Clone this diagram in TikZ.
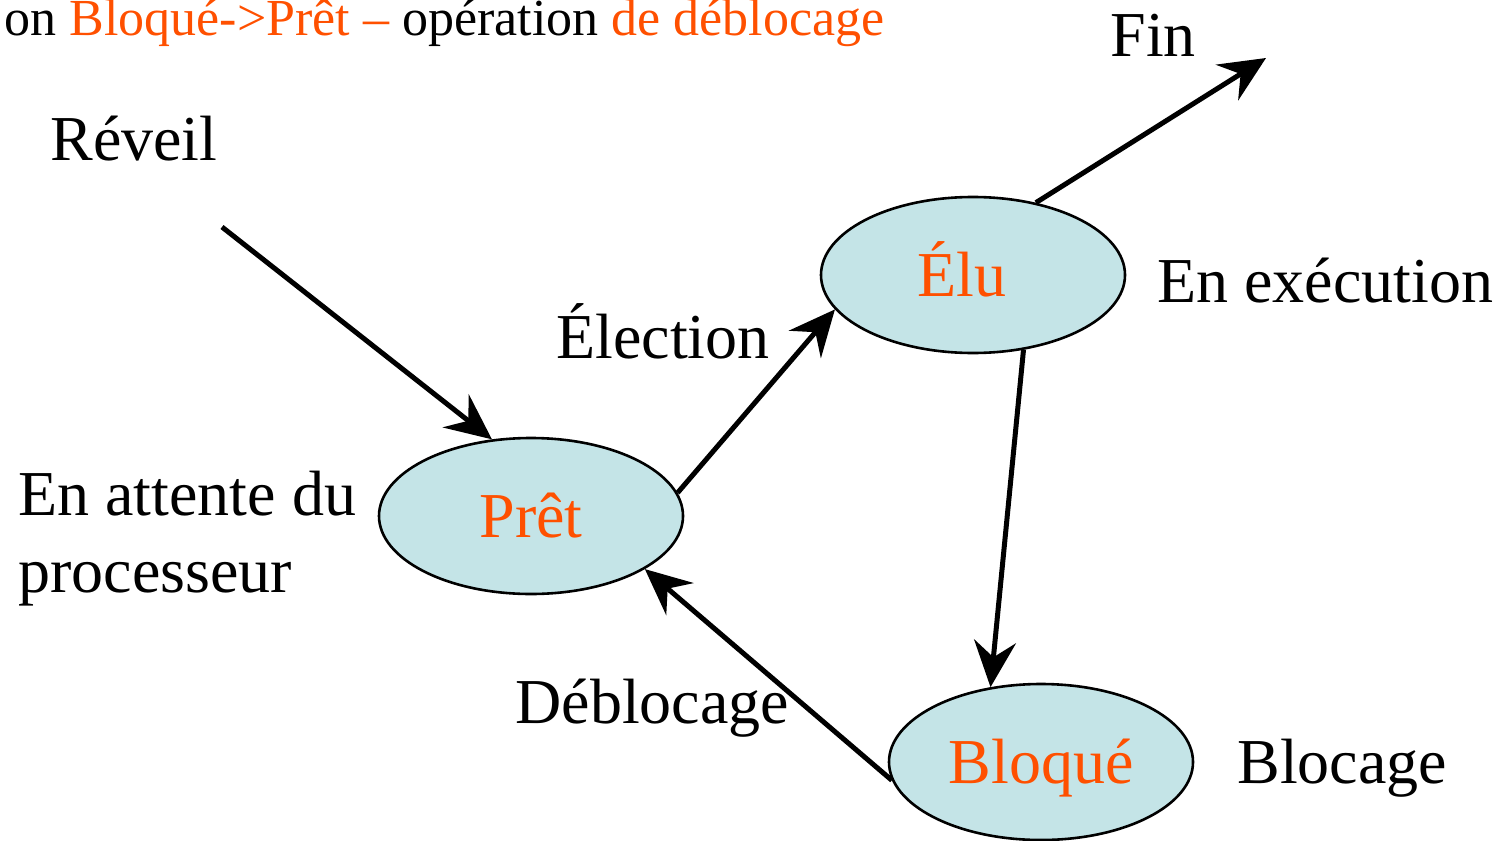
\documentclass[tikz,border=0pt]{standalone}
\usepackage{fontspec}
\setmainfont{Liberation Serif}
\usetikzlibrary{arrows.meta,shapes.geometric}
\definecolor{stfill}{RGB}{196,228,231}
\definecolor{storange}{RGB}{255,80,0}
\tikzset{
  state/.style={ellipse, draw=black, line width=1.3pt, fill=stfill, minimum width=152pt, minimum height=78pt, inner sep=0pt, text=storange, font=\fontsize{32}{38}\selectfont, text height=21pt, text depth=0pt},
  lbl/.style={anchor=base west, inner sep=0pt, font=\fontsize{32}{38}\selectfont},
  arr/.style={line width=2.5pt, -{Stealth[length=23pt, width=21pt, inset=8pt]}}
}
\begin{document}
\begin{tikzpicture}[x=0.5pt, y=-0.5pt]
\useasboundingbox (0,0) rectangle (1503,840);
\node[state] (elu) at (973,275) {Élu\hspace*{11pt}};
\node[state] (pret) at (531,516) {Prêt};
\node[state] (bloque) at (1041,762) {Bloqué};
\node[anchor=base east, inner sep=0pt, font=\fontsize{26}{30}\selectfont] (titre) at (885,36) {on \textcolor{storange}{Bloqué->Prêt –} opération \textcolor{storange}{de déblocage}};
\node[lbl] (reveil) at (50,160) {Réveil};
\node[lbl] (election) at (556,358) {Élection};
\node[lbl] (fin) at (1110,57) {Fin};
\node[lbl] (exec) at (1157,302) {En exécution};
\node[lbl] (attente1) at (18,515) {En attente du};
\node[lbl] (attente2) at (18,592) {processeur};
\node[lbl] (debloc) at (515,723) {Déblocage};
\node[lbl] (blocage) at (1237,783) {Blocage};
\coordinate (revstart) at (222,227);
\coordinate (finend) at (1266,58);
\draw[arr] (revstart) -- (pret.117);
\draw[arr] (pret.9) -- (elu.194);
\draw[arr] (elu.49) -- (finend);
\draw[arr] (elu.-56) -- (bloque.124);
\draw[arr] (bloque.187) -- (pret.-25);
\end{tikzpicture}
\end{document}
